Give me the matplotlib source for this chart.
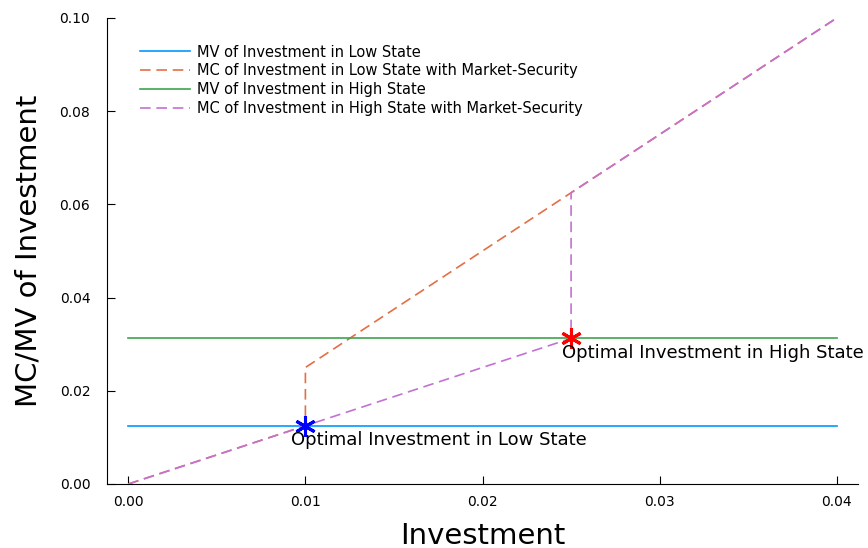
import numpy as np
import matplotlib.pyplot as plt

# marginal value / marginal cost of investment
mv_low = 0.0125
mv_high = 0.03125
x_flat = [0.0, 0.04]

x_mc_low = [0.0, 0.01, 0.01, 0.025, 0.04]
y_mc_low = [0.0, 0.0125, 0.025, 0.0625, 0.1]
x_mc_high = [0.0, 0.025, 0.025, 0.04]
y_mc_high = [0.0, 0.03125, 0.0625, 0.1]

opt_low = (0.01, 0.0125)
opt_high = (0.025, 0.03125)

fig = plt.figure(figsize=(8.68, 5.48), dpi=100)
ax = fig.add_axes([0.1233, 0.1168, 0.8652, 0.8504])
ax.set_xlim(-0.0012, 0.0412)
ax.set_ylim(0, 0.1)

lw = 1.2
ax.plot(x_flat, [mv_low, mv_low], color="#009AFA", lw=lw, label="MV of Investment in Low State")
l_low, = ax.plot(x_mc_low, y_mc_low, color="#E36F47", lw=lw, ls="--",
                 label="MC of Investment in Low State with Market-Security")
ax.plot(x_flat, [mv_high, mv_high], color="#3EA44E", lw=lw, label="MV of Investment in High State")
l_high, = ax.plot(x_mc_high, y_mc_high, color="#C371D2", lw=lw, ls="--",
                  label="MC of Investment in High State with Market-Security")

# pick a dash period so the two MC curves dash in step where they overlap
def path_len(xs, ys):
    pts = ax.transData.transform(np.column_stack([xs, ys])) * 72.0 / fig.dpi
    return np.sum(np.hypot(*np.diff(pts, axis=0).T))

d = abs(path_len(x_mc_low[:4], y_mc_low[:4]) - path_len(x_mc_high[:3], y_mc_high[:3]))
n = max(1, round(d / (9.0 * lw)))
period = d / n / lw
for ln in (l_low, l_high):
    ln.set_dashes((period * 0.65, period * 0.35))

ax.plot(*opt_low, marker=(6, 2, 0), color="blue", ms=15, mew=2.2, ls="none")
ax.plot(*opt_high, marker=(6, 2, 0), color="red", ms=15, mew=2.2, ls="none")
ax.text(0.0092, 0.0094, "Optimal Investment in Low State", fontsize=13, ha="left", va="center")
ax.text(0.0245, 0.0282, "Optimal Investment in High State", fontsize=13, ha="left", va="center")

ax.set_xticks([0, 0.01, 0.02, 0.03, 0.04])
ax.set_xticklabels(["0.00", "0.01", "0.02", "0.03", "0.04"])
ax.set_yticks([0, 0.02, 0.04, 0.06, 0.08, 0.10])
ax.set_yticklabels(["0.00", "0.02", "0.04", "0.06", "0.08", "0.10"])
ax.tick_params(direction="in", length=6, labelsize=10)
ax.tick_params(axis="x", pad=8)
ax.tick_params(axis="y", pad=12)
for s in ["top", "right"]:
    ax.spines[s].set_visible(False)

ax.set_xlabel("Investment", fontsize=21, labelpad=9)
ax.set_ylabel("MC/MV of Investment", fontsize=21, labelpad=12)

ax.legend(loc="upper left", bbox_to_anchor=(0.044, 0.943), frameon=False, fontsize=10.5,
          handlelength=3.4, handletextpad=0.5, labelspacing=0.27, borderaxespad=0, borderpad=0)

fig.savefig("out.png", dpi=100)
